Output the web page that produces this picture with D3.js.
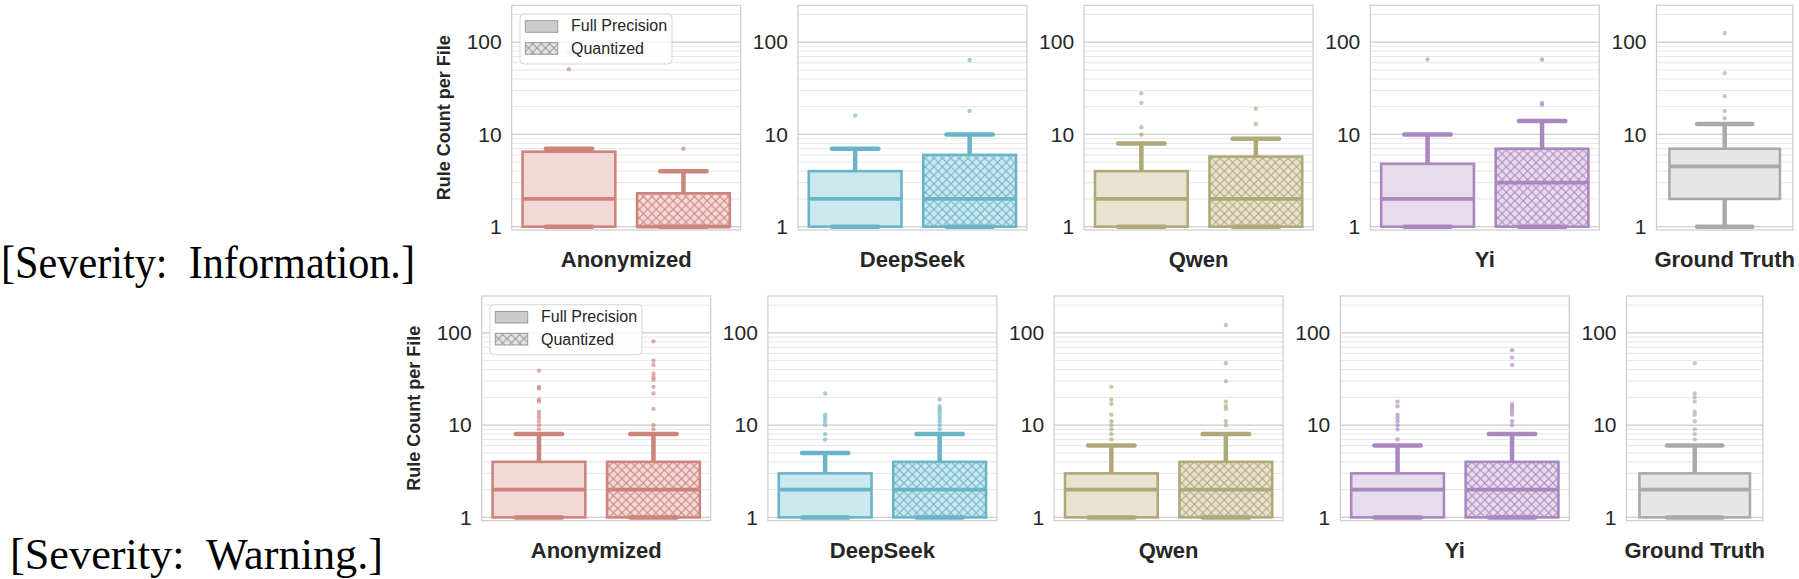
<!DOCTYPE html>
<html>
<head>
<meta charset="utf-8">
<script src="https://cdn.jsdelivr.net/npm/d3@7"></script>
<style>
  body { margin: 0; background: #fff; }
  svg { display: block; }
</style>
</head>
<body>
<div id="chart"></div>
<script>
// categories
const models = ["Anonymized", "DeepSeek", "Qwen", "Yi", "Ground Truth"];
const precisions = ["Full Precision", "Quantized"];
const yTicks = [1, 10, 100];

// box stats: [lower whisker, q1, median, q3, upper whisker] for Anonymized, DeepSeek, Qwen, Yi
const infoFullBox = [[1, 1, 2, 6.5, 7], [1, 1, 2, 4, 7], [1, 1, 2, 4, 8], [1, 1, 2, 4.8, 10]];
const infoQuantBox = [[1, 1, 1, 2.3, 4], [1, 1, 2, 6, 10], [1, 1, 2, 5.75, 9], [1, 1, 3, 7, 14]];
const infoTruthBox = [1, 2, 4.5, 7, 13];
const infoFullOutliers = [[51, 76], [16], [10, 12, 22, 28], [65]];
const infoQuantOutliers = [[7], [18, 64], [13, 19], [21, 22, 65]];
const infoTruthOutliers = [15, 18, 26, 46, 126];

const warnFullBox = [[1, 1, 2, 4, 8], [1, 1, 2, 3, 5], [1, 1, 2, 3, 6], [1, 1, 2, 3, 6]];
const warnQuantBox = [[1, 1, 2, 4, 8], [1, 1, 2, 4, 8], [1, 1, 2, 4, 8], [1, 1, 2, 4, 8]];
const warnTruthBox = [1, 1, 2, 3, 6];
const warnFullOutliers = [[9, 10, 11, 12, 13, 14, 18, 19, 25, 26, 39], [7, 8, 10, 11, 12, 13, 22],
    [7, 8, 9, 10, 11, 13, 17, 19, 26], [7, 9, 10, 11, 12, 13, 16, 18]];
const warnQuantOutliers = [[9, 10, 15, 22, 26, 31, 33, 36, 45, 50, 81], [9, 10, 11, 12, 13, 14, 15, 16, 19],
    [10, 11, 15, 16, 18, 30, 47, 122], [10, 11, 13, 14, 15, 16, 17, 45, 54, 65]];
const warnTruthOutliers = [7, 8, 9, 11, 13, 14, 18, 20, 22, 47];

const edgeColors = ["#cc847c", "#6ab4c8", "#b0a878", "#a987bf", "#aaaaaa"];
const fillColors = ["#f2d9d8", "#cbe8ef", "#e7e3d0", "#e7dcec", "#e6e6e6"];

const width = 1799, height = 579;
const sans = "'Liberation Sans', Arial, sans-serif";
const textColor = "#262626";

const svg = d3.select("#chart").append("svg")
    .attr("width", width)
    .attr("height", height);

const defs = svg.append("defs");
edgeColors.concat(["#999999"]).forEach(function (c, i) {
    const s = 8.5;
    defs.append("pattern")
        .attr("id", "hatch" + i)
        .attr("patternUnits", "userSpaceOnUse")
        .attr("width", s)
        .attr("height", s)
        .append("path")
        .attr("d", "M0,0L" + s + "," + s + "M" + s + ",0L0," + s)
        .attr("stroke", c)
        .attr("stroke-width", 1.1);
});

const rows = [
    { label: "[Severity:  Information.]", labelX: 1, labelY: 278, labelLen: 414, labelSize: 46,
      top: 5.3, bottom: 230, left: 511.7,
      full: infoFullBox, quant: infoQuantBox, truth: infoTruthBox,
      fullOut: infoFullOutliers, quantOut: infoQuantOutliers, truthOut: infoTruthOutliers },
    { label: "[Severity:  Warning.]", labelX: 10, labelY: 568.5, labelLen: 373, labelSize: 44,
      top: 296, bottom: 520.7, left: 481.7,
      full: warnFullBox, quant: warnQuantBox, truth: warnTruthBox,
      fullOut: warnFullOutliers, quantOut: warnQuantOutliers, truthOut: warnTruthOutliers }
];

const step = 286.2;

rows.forEach(function (row) {
    svg.append("text")
        .attr("x", row.labelX)
        .attr("y", row.labelY)
        .attr("textLength", row.labelLen)
        .attr("lengthAdjust", "spacingAndGlyphs")
        .style("white-space", "pre")
        .style("font-family", "'Liberation Serif', 'DejaVu Serif', serif")
        .style("font-size", row.labelSize + "px")
        .attr("fill", "#000")
        .text(row.label);

    const y = d3.scaleLog()
        .domain([Math.pow(10, -0.036), Math.pow(10, 2.4)])
        .range([row.bottom - row.top, 0]);

    models.forEach(function (model, m) {
        const pw = m === 4 ? 136.4 : 229;
        const boxes = m === 4
            ? [{ key: model, stats: row.truth, outliers: row.truthOut, hatched: false }]
            : [{ key: precisions[0], stats: row.full[m], outliers: row.fullOut[m], hatched: false },
               { key: precisions[1], stats: row.quant[m], outliers: row.quantOut[m], hatched: true }];

        const g = svg.append("g")
            .attr("transform", "translate(" + (row.left + m * step) + "," + row.top + ")");
        drawPanel(g, pw, y, boxes, m);

        g.append("text")
            .attr("x", pw / 2)
            .attr("y", row.bottom - row.top + 37)
            .attr("text-anchor", "middle")
            .style("font-family", sans)
            .style("font-size", "22px")
            .style("font-weight", "bold")
            .attr("fill", textColor)
            .text(model);

        if (m === 0) {
            g.append("text")
                .attr("transform", "translate(-62," + ((row.bottom - row.top) / 2) + ") rotate(-90)")
                .attr("text-anchor", "middle")
                .style("font-family", sans)
                .style("font-size", "18px")
                .style("font-weight", "bold")
                .attr("fill", textColor)
                .text("Rule Count per File");
            drawLegend(g);
        }
    });
});

function drawPanel(g, pw, y, boxes, ci) {
    const h = y.range()[0];
    const minor = y.ticks().filter(function (d) { return yTicks.indexOf(d) < 0; });

    g.selectAll(".minor")
        .data(minor)
        .enter().append("line")
        .attr("x1", 0).attr("x2", pw)
        .attr("y1", function (d) { return y(d); })
        .attr("y2", function (d) { return y(d); })
        .attr("stroke", "#e6e6e6")
        .attr("stroke-width", 1);

    g.selectAll(".major")
        .data(yTicks)
        .enter().append("line")
        .attr("x1", 0).attr("x2", pw)
        .attr("y1", function (d) { return y(d); })
        .attr("y2", function (d) { return y(d); })
        .attr("stroke", "#cccccc")
        .attr("stroke-width", 1.3);

    const x = d3.scaleBand()
        .domain(boxes.map(function (b) { return b.key; }))
        .range([0, pw])
        .paddingInner(0.19)
        .paddingOuter(0.095);

    const edge = edgeColors[ci], fill = fillColors[ci];

    boxes.forEach(function (b) {
        const s = b.stats;
        const x0 = x(b.key), bw = x.bandwidth(), cx = x0 + bw / 2;
        const bg = g.append("g");

        bg.append("rect")
            .attr("x", x0).attr("y", y(s[3]))
            .attr("width", bw).attr("height", y(s[1]) - y(s[3]))
            .attr("fill", fill);
        if (b.hatched) {
            bg.append("rect")
                .attr("x", x0).attr("y", y(s[3]))
                .attr("width", bw).attr("height", y(s[1]) - y(s[3]))
                .attr("fill", "url(#hatch" + ci + ")");
        }
        bg.append("rect")
            .attr("x", x0).attr("y", y(s[3]))
            .attr("width", bw).attr("height", y(s[1]) - y(s[3]))
            .attr("fill", "none")
            .attr("stroke", edge)
            .attr("stroke-width", 2.6);

        [[s[3], s[4]], [s[1], s[0]]].forEach(function (w) {
            if (w[0] !== w[1]) {
                bg.append("line")
                    .attr("x1", cx).attr("x2", cx)
                    .attr("y1", y(w[0])).attr("y2", y(w[1]))
                    .attr("stroke", edge)
                    .attr("stroke-width", 4.5);
            }
            bg.append("line")
                .attr("x1", cx - bw / 4).attr("x2", cx + bw / 4)
                .attr("y1", y(w[1])).attr("y2", y(w[1]))
                .attr("stroke", edge)
                .attr("stroke-width", 4.5)
                .attr("stroke-linecap", "round");
        });

        bg.append("line")
            .attr("x1", x0).attr("x2", x0 + bw)
            .attr("y1", y(s[2])).attr("y2", y(s[2]))
            .attr("stroke", edge)
            .attr("stroke-width", 3.8);

        bg.selectAll("circle")
            .data(b.outliers)
            .enter().append("circle")
            .attr("cx", cx)
            .attr("cy", function (d) { return y(d); })
            .attr("r", 2.2)
            .attr("fill", edge)
            .attr("fill-opacity", 0.65);
    });

    g.append("rect")
        .attr("width", pw)
        .attr("height", h)
        .attr("fill", "none")
        .attr("stroke", "#cccccc")
        .attr("stroke-width", 1.2);

    const yAxis = d3.axisLeft(y)
        .tickValues(yTicks)
        .tickFormat(d3.format("d"))
        .tickSize(0)
        .tickPadding(10);

    g.append("g")
        .call(yAxis)
        .call(function (a) { a.select(".domain").remove(); })
        .selectAll("text")
        .style("font-family", sans)
        .style("font-size", "21px")
        .attr("fill", textColor);
}

function drawLegend(g) {
    const lg = g.append("g").attr("transform", "translate(8.3,8.7)");
    lg.append("rect")
        .attr("width", 152).attr("height", 50)
        .attr("rx", 4)
        .attr("fill", "#fff")
        .attr("fill-opacity", 0.8)
        .attr("stroke", "#d8d8d8");

    precisions.forEach(function (p, i) {
        const py = 6.7 + i * 22;
        lg.append("rect")
            .attr("x", 5.3).attr("y", py)
            .attr("width", 32.4).attr("height", 11.6)
            .attr("fill", i === 0 ? "#cccccc" : "#e3e3e3");
        if (i === 1) {
            lg.append("rect")
                .attr("x", 5.3).attr("y", py)
                .attr("width", 32.4).attr("height", 11.6)
                .attr("fill", "url(#hatch5)");
        }
        lg.append("rect")
            .attr("x", 5.3).attr("y", py)
            .attr("width", 32.4).attr("height", 11.6)
            .attr("fill", "none")
            .attr("stroke", "#9a9a9a")
            .attr("stroke-width", 1);
        lg.append("text")
            .attr("x", 51)
            .attr("y", 17 + i * 23)
            .style("font-family", sans)
            .style("font-size", "16px")
            .attr("fill", textColor)
            .text(p);
    });
}
</script>
</body>
</html>
